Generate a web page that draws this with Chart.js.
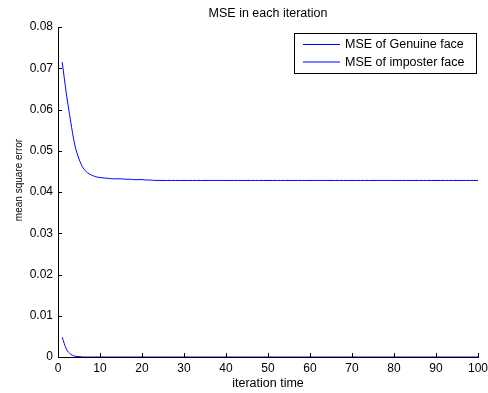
<!DOCTYPE html>
<html>
<head>
<meta charset="utf-8">
<script src="https://cdn.jsdelivr.net/npm/chart.js@4/dist/chart.umd.min.js"></script>
<style>
html,body{margin:0;padding:0;background:#fff;}
#wrap{width:488px;height:393px;position:relative;}
</style>
</head>
<body>
<div id="wrap"><canvas id="c" width="488" height="393"></canvas></div>
<script>
const chartTitle = "MSE in each iteration";
const xTitle = "iteration time";
const yTitle = "mean square error";
const seriesNames = ["MSE of Genuine face", "MSE of imposter face"];
const xTicks = [0, 10, 20, 30, 40, 50, 60, 70, 80, 90, 100];
const yTicks = [0, 0.01, 0.02, 0.03, 0.04, 0.05, 0.06, 0.07, 0.08];

const iterations = [
  1,2,3,4,5,6,7,8,9,10,11,12,13,14,15,16,17,18,19,20,
  21,22,23,24,25,26,27,28,29,30,31,32,33,34,35,36,37,38,39,40,
  41,42,43,44,45,46,47,48,49,50,51,52,53,54,55,56,57,58,59,60,
  61,62,63,64,65,66,67,68,69,70,71,72,73,74,75,76,77,78,79,80,
  81,82,83,84,85,86,87,88,89,90,91,92,93,94,95,96,97,98,99,100
];
const genuineMSE = [
  0.0715,0.0638,0.0572,0.0514,0.0480,0.0458,0.0447,0.0441,0.0437,0.0435,
  0.0434,0.0433,0.0432,0.0432,0.0432,0.0431,0.0431,0.0430,0.0430,0.0430,
  0.0429,0.0429,0.0428,0.0428,0.0428,0.0428,0.0428,0.0428,0.0428,0.0428,
  0.0428,0.0428,0.0428,0.0428,0.0428,0.0428,0.0428,0.0428,0.0428,0.0428,
  0.0428,0.0428,0.0428,0.0428,0.0428,0.0428,0.0428,0.0428,0.0428,0.0428,
  0.0428,0.0428,0.0428,0.0428,0.0428,0.0428,0.0428,0.0428,0.0428,0.0428,
  0.0428,0.0428,0.0428,0.0428,0.0428,0.0428,0.0428,0.0428,0.0428,0.0428,
  0.0428,0.0428,0.0428,0.0428,0.0428,0.0428,0.0428,0.0428,0.0428,0.0428,
  0.0428,0.0428,0.0428,0.0428,0.0428,0.0428,0.0428,0.0428,0.0428,0.0428,
  0.0428,0.0428,0.0428,0.0428,0.0428,0.0428,0.0428,0.0428,0.0428,0.0428
];
const imposterMSE = [
  0.0048,0.0019,0.0007,0.0002,0.0001,0,0,0,0,0,
  0,0,0,0,0,0,0,0,0,0,
  0,0,0,0,0,0,0,0,0,0,
  0,0,0,0,0,0,0,0,0,0,
  0,0,0,0,0,0,0,0,0,0,
  0,0,0,0,0,0,0,0,0,0,
  0,0,0,0,0,0,0,0,0,0,
  0,0,0,0,0,0,0,0,0,0,
  0,0,0,0,0,0,0,0,0,0,
  0,0,0,0,0,0,0,0,0,0
];

const FONT = "'Liberation Sans', Arial, Helvetica, sans-serif";

const toPoints = (ys) => iterations.map((x, i) => ({x: x, y: ys[i]}));

const matlabDecor = {
  id: 'matlabDecor',
  afterDatasetsDraw(chart) {
    const ctx = chart.ctx;
    const xs = chart.scales.x, ys = chart.scales.y;
    const area = chart.chartArea;
    ctx.save();
    // inward ticks
    ctx.strokeStyle = '#000';
    ctx.lineWidth = 1;
    ctx.beginPath();
    xTicks.forEach(v => {
      const px = Math.round(xs.getPixelForValue(v)) + 0.5;
      ctx.moveTo(px, area.bottom);
      ctx.lineTo(px, area.bottom - 4);
    });
    yTicks.forEach(v => {
      const py = Math.round(ys.getPixelForValue(v)) + 0.5;
      ctx.moveTo(area.left, py);
      ctx.lineTo(area.left + 4, py);
    });
    ctx.stroke();

    // title
    ctx.fillStyle = '#000';
    ctx.font = '12.5px ' + FONT;
    ctx.textAlign = 'center';
    ctx.textBaseline = 'middle';
    ctx.fillText(chartTitle, (area.left + area.right) / 2, 13.5);

    // y axis title
    ctx.save();
    ctx.translate(19, 180);
    ctx.rotate(-Math.PI / 2);
    ctx.font = '10px ' + FONT;
    ctx.textAlign = 'center';
    ctx.textBaseline = 'middle';
    ctx.fillText(yTitle, 0, 0);
    ctx.restore();

    // legend box
    const bx = 294.5, by = 33.5, bw = 182, bh = 40;
    ctx.fillStyle = '#fff';
    ctx.fillRect(bx, by, bw, bh);
    ctx.strokeStyle = '#000';
    ctx.strokeRect(bx, by, bw, bh);
    const rows = [44, 61.5];
    chart.data.datasets.forEach((ds, i) => {
      ctx.strokeStyle = ds.borderColor;
      ctx.beginPath();
      ctx.moveTo(303, rows[i] + 0.5);
      ctx.lineTo(340, rows[i] + 0.5);
      ctx.stroke();
      ctx.fillStyle = '#000';
      ctx.font = '12.5px ' + FONT;
      ctx.textAlign = 'left';
      ctx.textBaseline = 'middle';
      ctx.fillText(ds.label, 345, rows[i] + 1);
    });
    ctx.restore();
  }
};

new Chart(document.getElementById('c'), {
  type: 'line',
  data: {
    datasets: [
      {label: seriesNames[0], data: toPoints(genuineMSE), borderColor: '#0000ff', borderWidth: 1, pointRadius: 0, fill: false, cubicInterpolationMode: 'monotone'},
      {label: seriesNames[1], data: toPoints(imposterMSE), borderColor: '#0000ff', borderWidth: 1, pointRadius: 0, fill: false, cubicInterpolationMode: 'monotone'}
    ]
  },
  options: {
    responsive: false,
    animation: false,
    devicePixelRatio: 1,
    layout: {padding: {top: 27, right: 0, left: 0, bottom: 0}},
    plugins: {legend: {display: false}, title: {display: false}, tooltip: {enabled: false}},
    scales: {
      x: {
        type: 'linear', min: 0, max: 100,
        afterBuildTicks: (s) => { s.ticks = xTicks.map(v => ({value: v})); },
        afterFit: (s) => { s.height = 36; s.paddingRight = 10; s.paddingLeft = 0; },
        grid: {display: false, drawTicks: false},
        border: {display: true, color: '#000', width: 1},
        ticks: {color: '#000', font: {family: FONT, size: 12}, padding: 4, maxRotation: 0, autoSkip: false,
                callback: (v) => String(v)},
        title: {display: true, text: xTitle, color: '#000', font: {family: FONT, size: 12.5}, padding: {top: 0, bottom: 2}}
      },
      y: {
        type: 'linear', min: 0, max: 0.08,
        afterBuildTicks: (s) => { s.ticks = yTicks.map(v => ({value: v})); },
        afterFit: (s) => { s.width = 58; s.paddingTop = 0; s.paddingBottom = 0; },
        grid: {display: false, drawTicks: false},
        border: {display: true, color: '#000', width: 1},
        ticks: {color: '#000', font: {family: FONT, size: 12}, padding: 5, autoSkip: false,
                callback: (v) => String(Math.round(v * 100) / 100)},
        title: {display: false}
      }
    }
  },
  plugins: [matlabDecor]
});
</script>
</body>
</html>
